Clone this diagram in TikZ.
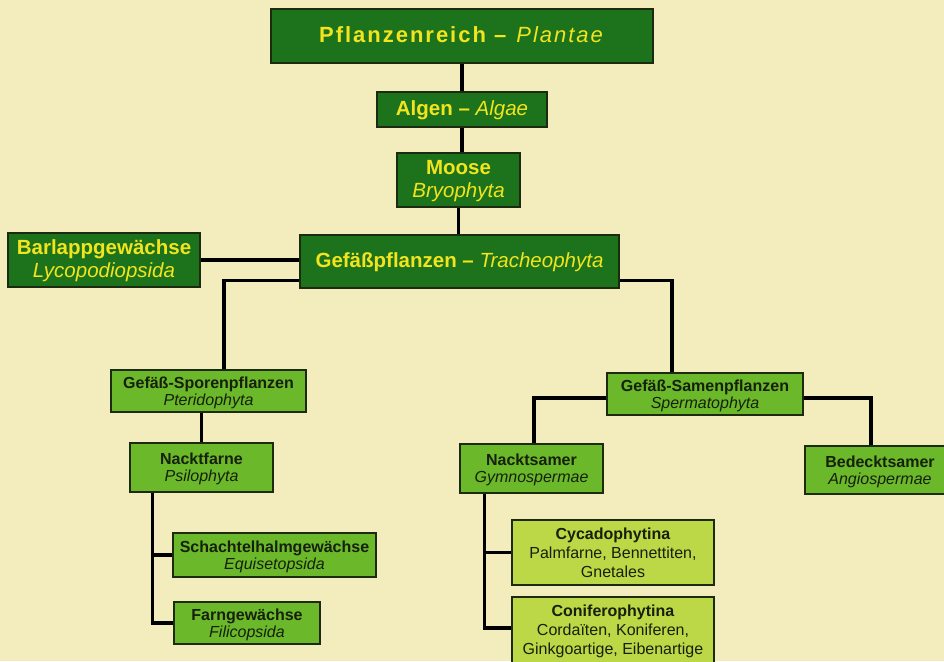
\documentclass[tikz,border=0pt]{standalone}
\usepackage{fontspec}
\setmainfont{Liberation Sans}
\setsansfont{Liberation Sans}
\usetikzlibrary{backgrounds}
\definecolor{bg}{HTML}{F3EDBD}
\definecolor{dkgreen}{HTML}{1D731B}
\definecolor{ltgreen}{HTML}{6BB82B}
\definecolor{ygreen}{HTML}{BCD846}
\definecolor{ytext}{HTML}{F2E41E}
\definecolor{dtext}{HTML}{16200B}
\definecolor{bord}{HTML}{1C2A12}
\newcommand\boxtxt[2]{\raisebox{-#1}[\height][\depth]{\begin{tabular}{@{}c@{}}#2\end{tabular}}}
\tikzset{
  basebox/.style={draw=bord, line width=1.3pt, inner sep=0pt, align=center},
  dbox/.style={basebox, fill=dkgreen, text=ytext, font=\fontsize{20.5}{23.5}\selectfont},
  lbox/.style={basebox, fill=ltgreen, text=dtext, font=\fontsize{16}{17}\selectfont},
  ybox/.style={basebox, fill=ygreen, text=dtext, font=\fontsize{16}{19}\selectfont},
  link/.style={draw=black, line width=3.3pt},
  sz/.style n args={2}{minimum width=#1pt, minimum height=#2pt}
}
\begin{document}
\begin{tikzpicture}[x=1pt,y=-1pt]
\useasboundingbox (0,0) rectangle (944,661);
\node[dbox, sz={382}{54}, font=\fontsize{22}{25}\selectfont\addfontfeatures{LetterSpace=9}] (top) at (462,36) {\boxtxt{1pt}{\textbf{Pflanzenreich –} \textit{Plantae}}};
\node[dbox, sz={170}{35}] (algen) at (462,109.5) {\boxtxt{1.5pt}{\textbf{Algen –} \textit{Algae}}};
\node[dbox, sz={123}{54}] (moose) at (458.5,180) {\boxtxt{1.5pt}{\textbf{Moose}\\\textit{Bryophyta}}};
\node[dbox, sz={192}{54}] (barl) at (104,260) {\boxtxt{1.5pt}{\textbf{Barlappgewächse}\\\textit{Lycopodiopsida}}};
\node[dbox, sz={319}{53}] (gef) at (459.5,261.5) {\boxtxt{1.5pt}{\textbf{Gefäßpflanzen –} \textit{Tracheophyta}}};
\node[lbox, sz={195}{42}] (spor) at (208.5,391) {\boxtxt{2.5pt}{\textbf{Gefäß-Sporenpflanzen}\\\textit{Pteridophyta}}};
\node[lbox, sz={143}{49}] (nackt) at (201.5,467.5) {\boxtxt{2.5pt}{\textbf{Nacktfarne}\\\textit{Psilophyta}}};
\node[lbox, sz={203}{44}] (schacht) at (274.5,555) {\boxtxt{2.5pt}{\textbf{Schachtelhalmgewächse}\\\textit{Equisetopsida}}};
\node[lbox, sz={146}{42}] (farn) at (247,623) {\boxtxt{2.5pt}{\textbf{Farngewächse}\\\textit{Filicopsida}}};
\node[lbox, sz={196}{42}] (samen) at (705,394) {\boxtxt{2.5pt}{\textbf{Gefäß-Samenpflanzen}\\\textit{Spermatophyta}}};
\node[lbox, sz={143}{49}] (nsam) at (531.5,468.5) {\boxtxt{2.5pt}{\textbf{Nacktsamer}\\\textit{Gymnospermae}}};
\node[lbox, sz={150}{48}] (bed) at (880,470) {\boxtxt{2.5pt}{\textbf{Bedecktsamer}\\\textit{Angiospermae}}};
\node[ybox, sz={202}{65}] (cyc) at (613,552.5) {\boxtxt{2pt}{\textbf{Cycadophytina}\\Palmfarne, Bennettiten,\\Gnetales}};
\node[ybox, sz={202}{66}] (con) at (613,630) {\boxtxt{1.5pt}{\textbf{Coniferophytina}\\Cordaïten, Koniferen,\\Ginkgoartige, Eibenartige}};
\begin{scope}[on background layer]
\fill[bg] (0,0) rectangle (944,661);
\draw[link] (algen.north) -- (algen.north |- top.south);
\draw[link] (algen.south) -- (algen.south |- moose.north);
\draw[link] (moose.south) -- (moose.south |- gef.north);
\draw[link] (barl.east) -- (barl.east -| gef.west);
\draw[link] ([yshift=8pt]gef.south west) -| ([xshift=15.5pt]spor.north);
\draw[link] ([yshift=8pt]gef.south east) -| ([xshift=-33pt]samen.north);
\draw[link] (nackt.north) -- (nackt.north |- spor.south);
\draw[link] ([xshift=23pt]nackt.south west) |- (schacht.west);
\draw[link] ([xshift=23pt]nackt.south west) |- (farn.west);
\draw[link] ([yshift=-4pt]samen.west) -| ([xshift=2.5pt]nsam.north);
\draw[link] ([yshift=-4pt]samen.east) -| ([xshift=-9pt]bed.north);
\draw[link] ([xshift=25pt]nsam.south west) |- (cyc.west);
\draw[link] ([xshift=25pt]nsam.south west) |- ([yshift=2pt]con.west);
\end{scope}
\end{tikzpicture}
\end{document}
